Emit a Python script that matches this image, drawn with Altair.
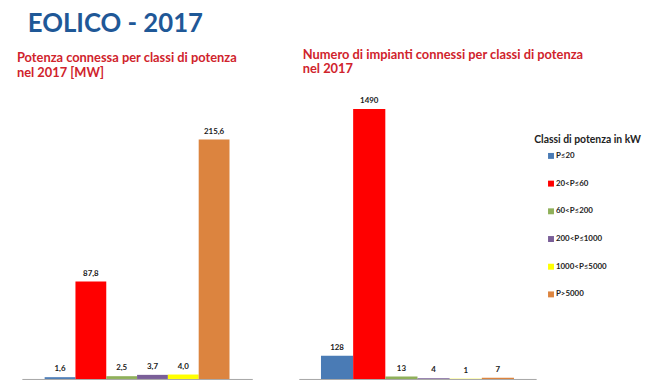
import altair as alt
import pandas as pd

classes = ["P≤20", "20<P≤60", "60<P≤200", "200<P≤1000", "1000<P≤5000", "P>5000"]
colors = ["#4A7BB5", "#FF0000", "#8FB05A", "#7A5F98", "#FFFF00", "#DC843F"]
power_mw = [1.6, 87.8, 2.5, 3.7, 4.0, 215.6]
plants = [128, 1490, 13, 4, 1, 7]

FONT = "Lato"
RED = "#D0232C"

df1 = pd.DataFrame({"cls": classes, "v": power_mw,
                    "lab": [f"{v:.1f}".replace(".", ",") for v in power_mw]})
df2 = pd.DataFrame({"cls": classes, "v": plants, "lab": [str(v) for v in plants]})

PLOT_H = 281


def panel(df, ymax, po, width, title_lines, title_dx, legend):
    x = alt.X("cls:N", sort=classes,
              axis=alt.Axis(labels=False, ticks=False, title=None, grid=False,
                            domainColor="#A6A6A6", domainWidth=1),
              scale=alt.Scale(paddingInner=0, paddingOuter=po))
    y = alt.Y("v:Q", axis=None, scale=alt.Scale(domain=[0, ymax], nice=False, zero=True))
    color = alt.Color("cls:N", sort=classes,
                      scale=alt.Scale(domain=classes, range=colors), legend=legend)
    base = alt.Chart(df).encode(x=x, y=y)
    bars = base.mark_bar(strokeWidth=0).encode(color=color)
    text = base.mark_text(baseline="bottom", dy=-4, fontSize=8, fontWeight="bold",
                          font=FONT, color="#1A1A1A").encode(text="lab:N")
    return alt.layer(bars, text).properties(
        width=width, height=PLOT_H,
        title=alt.TitleParams(title_lines, anchor="start", dx=title_dx, fontSize=13,
                              font=FONT, fontWeight="bold", color=RED, lineHeight=15,
                              offset=21),
    )


left = panel(df1, 215.6 * PLOT_H / 242, 0.74, 233,
             ["Potenza connessa per classi di potenza", "nel 2017 [MW]"], -5, None)

legend = alt.Legend(title="Classi di potenza in kW", orient="none", legendX=238, legendY=34,
                    titleFontSize=10.5, titleFont=FONT, titleFontWeight="bold",
                    titleColor="#222222", labelFontSize=8, labelFont=FONT,
                    labelFontWeight="bold", labelColor="#222222", symbolType="square",
                    symbolSize=36, symbolStrokeWidth=0, rowPadding=20, titlePadding=7,
                    symbolOffset=13, labelOffset=1)

right = panel(df2, 1490 * PLOT_H / 273, 0.69, 240,
              ["Numero di impianti connessi per classi di potenza", "nel 2017"], 4, legend)

chart = alt.hconcat(left, right, spacing=47).resolve_scale(color="independent").properties(
    padding={"left": 9, "top": 0, "right": 0, "bottom": 0},
    title=alt.TitleParams("EOLICO - 2017", anchor="start", dx=11, fontSize=26, font=FONT,
                          fontWeight="bold", color="#1F5897", offset=12),
).configure_view(stroke=None)

chart.save("out.html", embed_options={"renderer": "svg", "actions": False})
